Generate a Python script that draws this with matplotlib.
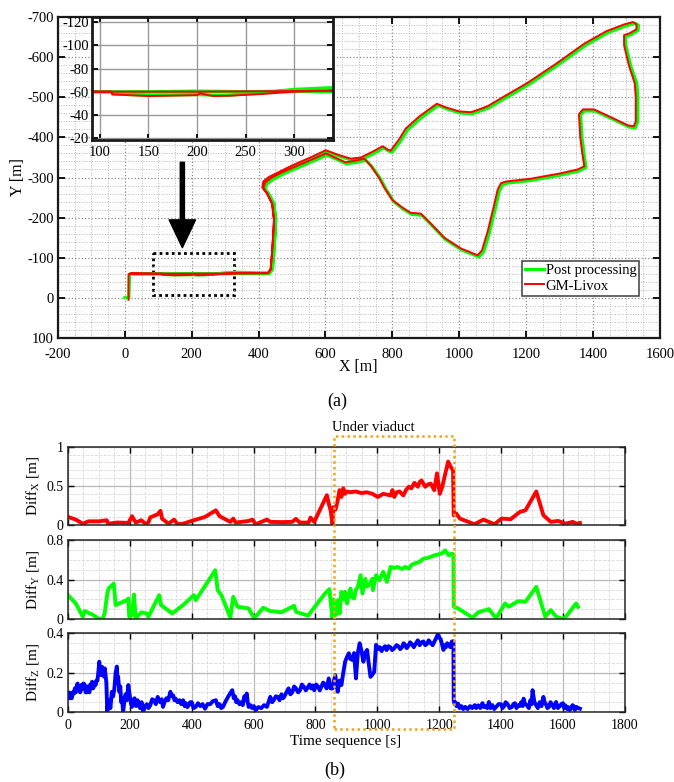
import numpy as np
import matplotlib
matplotlib.use("Agg")
import matplotlib.pyplot as plt
from matplotlib.ticker import MultipleLocator, AutoMinorLocator, FormatStrFormatter
from matplotlib.patches import Rectangle
from matplotlib.transforms import blended_transform_factory

plt.rcParams['font.family'] = ['Liberation Serif', 'DejaVu Serif']
plt.rcParams['mathtext.fontset'] = 'custom'
plt.rcParams['mathtext.rm'] = 'Liberation Serif'
plt.rcParams['axes.unicode_minus'] = False

# trajectory (X, Y) in metres
livox_xy = [
    (11, 5), (11, -59), (18, -61), (60, -60.5), (100, -60), (150, -60), (200, -60),
    (250, -60.3), (300, -60.5), (340, -61), (400, -61.5), (428, -62), (436, -70),
    (440, -110), (444, -160), (446, -193), (441, -235), (426, -260), (411, -275),
    (414, -290), (430, -301), (500, -330), (560, -352), (601, -368), (640, -356),
    (676, -347), (706, -350), (740, -364), (771, -378), (785, -370), (795, -367),
    (820, -395), (840, -422), (880, -452), (933, -484), (960, -475), (1000, -465),
    (1035, -463), (1060, -470), (1085, -478), (1140, -505), (1204, -536), (1290, -584),
    (1374, -634), (1440, -665), (1493, -682), (1520, -688), (1530, -682), (1530, -670),
    (1510, -660), (1493, -655), (1493, -630), (1508, -578), (1525, -535), (1528, -500),
    (1528, -440), (1522, -428), (1505, -430), (1460, -448), (1403, -470), (1370, -470),
    (1358, -458), (1362, -400), (1368, -360), (1374, -328), (1354, -320), (1300, -310),
    (1214, -297), (1140, -290), (1125, -286), (1115, -270), (1104, -230), (1085, -165),
    (1068, -118), (1055, -106), (1005, -123), (955, -150), (915, -185), (885, -210),
    (855, -212), (830, -225), (800, -244), (775, -276), (760, -300), (735, -330),
    (716, -347), (690, -342), (660, -338), (601, -360), (540, -338), (470, -313),
    (440, -300), (420, -288), (414, -274), (425, -260), (440, -235), (446, -195),
    (444, -160), (440, -110), (436, -72), (428, -61), (400, -61), (340, -61),
    (300, -60), (267, -58), (233, -56.5), (217, -56.2), (203, -58.5), (200, -57),
    (150, -56.2), (113, -57.7), (112, -60), (60, -60), (18, -60),
]
post_xy = [
    (0, 0), (12, 0), (14, -58), (20, -60), (60, -60), (100, -60), (150, -60),
    (200, -60.5), (250, -60), (300, -60.5), (340, -60), (400, -60), (432, -60),
    (441, -70), (445, -110), (449, -160), (451, -193), (446, -235), (431, -258),
    (416, -273), (419, -287), (435, -298), (505, -327), (565, -349), (605, -364),
    (645, -352), (680, -343), (710, -346), (745, -360), (775, -374), (789, -366),
    (799, -363), (825, -391), (845, -418), (885, -448), (937, -480), (964, -471),
    (1003, -461), (1038, -459), (1063, -466), (1089, -474), (1144, -501), (1208, -532),
    (1294, -580), (1378, -630), (1444, -661), (1497, -678), (1526, -685), (1536, -680),
    (1535, -667), (1515, -657), (1498, -652), (1498, -630), (1513, -578), (1531, -535),
    (1534, -500), (1534, -440), (1527, -424), (1508, -426), (1463, -444), (1406, -466),
    (1374, -466), (1363, -456), (1367, -400), (1373, -360), (1379, -325), (1357, -316),
    (1303, -306), (1217, -293), (1144, -286), (1130, -282), (1120, -266), (1109, -226),
    (1090, -161), (1073, -114), (1059, -102), (1008, -119), (958, -146), (918, -181),
    (888, -206), (858, -208), (833, -221), (804, -240), (780, -272), (765, -296),
    (740, -326), (721, -343), (694, -338), (663, -334), (605, -356), (544, -334),
    (474, -309), (445, -296), (425, -284), (419, -272), (430, -258), (445, -233),
    (451, -195), (449, -160), (445, -110), (441, -72), (432, -62), (400, -62),
    (340, -63.5), (300, -62), (267, -59), (233, -57), (217, -57), (200, -57.5),
    (150, -57), (113, -58), (112, -60), (60, -60), (20, -60),
]

# errors over time (t [s], diff [m])
diff_x = [
    (0, 0.106), (25, 0.072), (48, 0.02), (66, 0.05), (101, 0.05), (118, 0.06), (125, 0.064),
    (130, 0.02), (160, 0.035), (195, 0.03), (207, 0.115), (219, 0.034), (237, 0.064),
    (252, 0.013), (260, 0.04), (266, 0.1), (290, 0.14), (299, 0.183), (304, 0.085),
    (325, 0.02), (343, 0.072), (354, 0.013), (372, 0.02), (407, 0.064), (443, 0.106),
    (478, 0.19), (490, 0.115), (525, 0.043), (534, 0.085), (542, 0.034), (584, 0.055),
    (596, 0.072), (607, 0.013), (643, 0.072), (654, 0.043), (690, 0.04), (725, 0.043),
    (737, 0.081), (749, 0.034), (778, 0.034), (784, 0.098), (796, 0.043), (837, 0.383),
    (843, 0.277), (849, 0.19), (855, 0.02), (858, 0.23), (865, 0.2), (872, 0.32),
    (878, 0.447), (884, 0.36), (890, 0.47), (896, 0.40), (902, 0.43), (913, 0.42),
    (930, 0.43), (949, 0.41), (966, 0.42), (984, 0.40), (1002, 0.36), (1019, 0.40),
    (1031, 0.39), (1043, 0.38), (1049, 0.447), (1055, 0.36), (1063, 0.42), (1072, 0.43),
    (1084, 0.38), (1093, 0.45), (1102, 0.49), (1110, 0.47), (1120, 0.54), (1131, 0.49),
    (1137, 0.55), (1143, 0.57), (1155, 0.49), (1164, 0.52), (1173, 0.53), (1184, 0.447),
    (1193, 0.66), (1202, 0.40), (1210, 0.49), (1220, 0.66), (1229, 0.81), (1237, 0.745),
    (1245, 0.70), (1247, 0.128), (1255, 0.15), (1267, 0.085), (1290, 0.05), (1314, 0.013),
    (1343, 0.072), (1379, 0.013), (1402, 0.085), (1431, 0.077), (1461, 0.17), (1479, 0.19),
    (1514, 0.43), (1537, 0.128), (1561, 0.043), (1585, 0.055), (1608, 0.02), (1632, 0.043),
    (1643, 0.02), (1655, 0.03),
]
diff_y = [
    (0, 0.243), (25, 0.159), (48, 0.024), (54, 0.081), (78, 0.047), (101, 0.0), (113, 0.007),
    (119, 0.068), (127, 0.26), (131, 0.31), (148, 0.361), (154, 0.142), (166, 0.16),
    (178, 0.176), (190, 0.192), (195, 0.209), (198, 0.024), (207, 0.04), (213, 0.25),
    (219, 0.007), (237, 0.068), (254, 0.057), (260, 0.024), (295, 0.243), (301, 0.142),
    (337, 0.057), (372, 0.142), (407, 0.243), (413, 0.192), (476, 0.496), (484, 0.294),
    (496, 0.243), (525, 0.013), (534, 0.226), (548, 0.125), (584, 0.108), (602, 0.007),
    (631, 0.115), (654, 0.081), (690, 0.068), (731, 0.135), (737, 0.074), (776, 0.034),
    (831, 0.26), (845, 0.304), (855, 0.007), (858, 0.2), (861, 0.159), (866, 0.04),
    (872, 0.192), (878, 0.057), (884, 0.277), (890, 0.2), (896, 0.277), (902, 0.159),
    (908, 0.25), (913, 0.31), (919, 0.22), (925, 0.209), (931, 0.3), (937, 0.327),
    (946, 0.446), (952, 0.26), (961, 0.41), (966, 0.33), (972, 0.344), (978, 0.37),
    (984, 0.41), (986, 0.294), (996, 0.446), (1007, 0.395), (1013, 0.44), (1019, 0.48),
    (1025, 0.43), (1031, 0.378), (1043, 0.53), (1055, 0.52), (1066, 0.53), (1080, 0.51),
    (1090, 0.53), (1102, 0.513), (1110, 0.55), (1120, 0.564), (1135, 0.58), (1149, 0.614),
    (1160, 0.62), (1170, 0.63), (1184, 0.648), (1200, 0.66), (1210, 0.67), (1220, 0.699),
    (1226, 0.67), (1231, 0.648), (1241, 0.665), (1246, 0.66), (1247, 0.125), (1261, 0.108),
    (1285, 0.06), (1308, 0.013), (1326, 0.068), (1361, 0.101), (1384, 0.007), (1413, 0.159),
    (1425, 0.125), (1455, 0.182), (1479, 0.176), (1514, 0.327), (1543, 0.024), (1561, 0.091),
    (1578, 0.024), (1602, 0.0), (1614, 0.04), (1626, 0.091), (1643, 0.159), (1649, 0.125),
]
diff_z = [
    (0, 0.077), (3, 0.1), (6, 0.07), (9, 0.095), (12, 0.07), (16, 0.1), (19, 0.094),
    (22, 0.12), (25, 0.1), (28, 0.13), (31, 0.145), (34, 0.11), (36, 0.12), (39, 0.1),
    (42, 0.111), (45, 0.14), (48, 0.12), (51, 0.145), (54, 0.137), (57, 0.1), (60, 0.10),
    (63, 0.13), (66, 0.12), (69, 0.1), (72, 0.14), (75, 0.12), (78, 0.154), (81, 0.12),
    (84, 0.13), (87, 0.15), (89, 0.137), (92, 0.16), (95, 0.16), (98, 0.2), (101, 0.256),
    (104, 0.21), (107, 0.188), (110, 0.23), (113, 0.21), (116, 0.18), (119, 0.222),
    (124, 0.15), (127, 0.0), (130, 0.05), (133, 0.06), (137, 0.02), (142, 0.103),
    (146, 0.08), (150, 0.12), (154, 0.2), (158, 0.231), (160, 0.15), (162, 0.18),
    (166, 0.103), (169, 0.13), (172, 0.05), (175, 0.07), (178, 0.0), (182, 0.05),
    (186, 0.09), (190, 0.06), (195, 0.137), (198, 0.1), (200, 0.08), (204, 0.04),
    (207, 0.026), (211, 0.06), (215, 0.07), (220, 0.03), (225, 0.06), (229, 0.04),
    (233, 0.02), (238, 0.05), (243, 0.0), (249, 0.03), (255, 0.04), (260, 0.02),
    (266, 0.034), (272, 0.065), (278, 0.06), (284, 0.04), (290, 0.077), (294, 0.06),
    (298, 0.05), (303, 0.065), (307, 0.026), (312, 0.05), (318, 0.07), (324, 0.06),
    (331, 0.103), (336, 0.08), (340, 0.085), (344, 0.06), (348, 0.068), (354, 0.05),
    (360, 0.06), (366, 0.04), (372, 0.06), (377, 0.03), (381, 0.045), (386, 0.025),
    (390, 0.034), (395, 0.05), (400, 0.05), (406, 0.02), (413, 0.026), (420, 0.045),
    (428, 0.03), (435, 0.04), (443, 0.017), (451, 0.04), (460, 0.04), (468, 0.055),
    (478, 0.06), (484, 0.03), (490, 0.04), (495, 0.02), (501, 0.026), (508, 0.05),
    (515, 0.07), (522, 0.09), (531, 0.111), (536, 0.07), (540, 0.08), (544, 0.05),
    (548, 0.06), (554, 0.04), (560, 0.05), (565, 0.035), (570, 0.08), (574, 0.06),
    (578, 0.094), (581, 0.05), (584, 0.026), (590, 0.035), (595, 0.02), (601, 0.03),
    (607, 0.009), (615, 0.025), (625, 0.02), (634, 0.035), (643, 0.026), (648, 0.05),
    (654, 0.077), (660, 0.05), (665, 0.06), (672, 0.08), (678, 0.077), (684, 0.06),
    (690, 0.09), (695, 0.07), (700, 0.08), (706, 0.1), (713, 0.12), (719, 0.09),
    (725, 0.1), (731, 0.13), (737, 0.12), (744, 0.1), (750, 0.11), (756, 0.14),
    (762, 0.13), (769, 0.11), (776, 0.128), (781, 0.14), (786, 0.12), (791, 0.135),
    (796, 0.111), (802, 0.14), (808, 0.13), (814, 0.11), (819, 0.128), (825, 0.15),
    (830, 0.14), (836, 0.12), (843, 0.171), (849, 0.12), (855, 0.12),
    (860, 0.16), (864, 0.188), (868, 0.14), (872, 0.103), (878, 0.16), (884, 0.137),
    (890, 0.2), (896, 0.256), (902, 0.28), (908, 0.299), (913, 0.27), (919, 0.265),
    (925, 0.3), (931, 0.171), (937, 0.3), (943, 0.35), (949, 0.31), (955, 0.256),
    (961, 0.3), (967, 0.316), (972, 0.25), (978, 0.179), (984, 0.19), (990, 0.205),
    (996, 0.342), (1002, 0.32), (1008, 0.33), (1014, 0.31), (1019, 0.325), (1025, 0.335),
    (1030, 0.315), (1036, 0.335), (1042, 0.33), (1048, 0.315), (1055, 0.325),
    (1062, 0.34), (1068, 0.335), (1074, 0.32), (1080, 0.33), (1085, 0.35), (1090, 0.342),
    (1095, 0.325), (1100, 0.335), (1106, 0.355), (1112, 0.345), (1118, 0.33), (1125, 0.35),
    (1131, 0.365), (1137, 0.34), (1143, 0.355), (1149, 0.359), (1155, 0.34), (1160, 0.345),
    (1166, 0.365), (1173, 0.35), (1179, 0.34), (1185, 0.36), (1190, 0.375), (1196, 0.397),
    (1200, 0.38), (1205, 0.37), (1210, 0.34), (1214, 0.316), (1218, 0.34), (1222, 0.33),
    (1226, 0.35), (1231, 0.342), (1236, 0.33), (1241, 0.359), (1246, 0.36),
    (1247, 0.06), (1250, 0.04), (1252, 0.05), (1256, 0.03), (1261, 0.043), (1266, 0.02),
    (1272, 0.03), (1278, 0.015), (1284, 0.026), (1292, 0.015), (1300, 0.03), (1307, 0.02),
    (1315, 0.035), (1320, 0.02), (1326, 0.034), (1333, 0.02), (1340, 0.045), (1345, 0.025),
    (1350, 0.03), (1356, 0.02), (1361, 0.051), (1366, 0.02), (1372, 0.035), (1378, 0.015),
    (1384, 0.026), (1392, 0.04), (1400, 0.04), (1405, 0.02), (1410, 0.03), (1415, 0.05),
    (1420, 0.043), (1428, 0.02), (1435, 0.025), (1440, 0.04), (1445, 0.045), (1450, 0.02),
    (1455, 0.034), (1460, 0.03), (1465, 0.05), (1470, 0.03), (1473, 0.068), (1478, 0.04),
    (1484, 0.034), (1490, 0.02), (1495, 0.06), (1499, 0.04), (1502, 0.111), (1508, 0.05),
    (1514, 0.034), (1519, 0.02), (1525, 0.05), (1531, 0.03), (1537, 0.077), (1541, 0.05),
    (1545, 0.04), (1550, 0.02), (1555, 0.026), (1560, 0.05), (1565, 0.04), (1571, 0.02),
    (1578, 0.051), (1584, 0.02), (1590, 0.03), (1595, 0.04), (1600, 0.045), (1604, 0.02),
    (1608, 0.034), (1613, 0.015), (1618, 0.025), (1622, 0.01), (1626, 0.017), (1631, 0.035),
    (1635, 0.03), (1639, 0.01), (1643, 0.026), (1650, 0.02), (1655, 0.017),
]
viaduct = (860, 1248)

lx, ly = np.array(livox_xy).T
px, py = np.array(post_xy).T

fig = plt.figure(figsize=(6.74, 7.82), dpi=100)

# ---- (a) trajectory ----
ax = fig.add_axes([0.086, 0.568, 0.893, 0.410])
ax.plot(px, py, color='#00ff00', lw=2.3, label='Post processing', solid_joinstyle='round')
ax.plot(lx, ly, color='#ff0000', lw=1.4, label='GM-Livox', solid_joinstyle='round')
ax.set_xlim(-200, 1600)
ax.set_ylim(100, -700)
ax.xaxis.set_major_locator(MultipleLocator(200))
ax.yaxis.set_major_locator(MultipleLocator(100))
ax.xaxis.set_minor_locator(AutoMinorLocator(4))
ax.yaxis.set_minor_locator(AutoMinorLocator(5))
ax.grid(which='major', linestyle=':', color='0.55', lw=0.9)
ax.grid(which='minor', linestyle=':', color='0.72', lw=0.7)
ax.tick_params(which='major', direction='in', top=True, right=True, length=5, width=1.3,
               labelsize=10.5, pad=3)
ax.tick_params(axis='x', pad=7)
ax.tick_params(which='minor', length=0)
for s in ax.spines.values():
    s.set_linewidth(1.6)
    s.set_color('0.1')

ax.add_patch(Rectangle((83, -111), 327 - 83, 103, fill=False, ec='black', lw=2,
                       linestyle=(0, (1, 1.2))))
ax.annotate('', xy=(172, -125), xytext=(172, -338),
            arrowprops=dict(facecolor='black', edgecolor='black', width=3, headwidth=19,
                            headlength=20))

leg = ax.legend(loc='lower right', bbox_to_anchor=(0.966, 0.132), fontsize=10.5,
                frameon=True, fancybox=False, edgecolor='0.3', framealpha=1,
                handlelength=1.3, handletextpad=0.15, borderpad=0.2, labelspacing=0.15,
                borderaxespad=0)
leg.get_frame().set_linewidth(1.2)

fig.text(0.531, 0.531, 'X [m]', ha='center', va='center', fontsize=11.5)
fig.text(0.027, 0.774, 'Y [m]', ha='center', va='center', fontsize=11.5, rotation=90)
fig.text(0.500, 0.487, '(a)', ha='center', va='center', fontsize=13)

# inset zoom of the straight segment
axi = fig.add_axes([0.1365, 0.821, 0.3575, 0.157])
axi.plot(px, py, color='#00ff00', lw=2.3)
axi.plot(lx, ly, color='#ff0000', lw=1.4)
axi.set_xlim(92, 340)
axi.set_ylim(-18.3, -124.3)
axi.set_xticks([100, 150, 200, 250, 300])
axi.set_yticks([-120, -100, -80, -60, -40, -20])
axi.grid(which='major', linestyle='-', color='0.6', lw=1)
axi.tick_params(direction='in', top=True, right=True, length=4, width=1.3, labelsize=10.5,
                pad=2)
axi.tick_params(axis='x', pad=4)
for s in axi.spines.values():
    s.set_linewidth(2)
    s.set_color('0.1')

# ---- (b) differences ----
series = [(diff_x, '#ff0000', 1.0, 0.5, 0.1, 'X'),
          (diff_y, '#00ff00', 0.8, 0.4, 0.1, 'Y'),
          (diff_z, '#0000ff', 0.4, 0.2, 0.05, 'Z')]
bottoms = [0.3283, 0.2084, 0.0895]
axes_b = []
for (pts, col, ymax, ymaj, ymin, lab), b in zip(series, bottoms):
    a = fig.add_axes([0.1009, b, 0.826, 0.1005])
    t, v = np.array(pts).T
    a.plot(t, v, color=col, lw=2.8, solid_joinstyle='round')
    a.set_xlim(0, 1800)
    a.set_ylim(0, ymax)
    a.xaxis.set_major_locator(MultipleLocator(200))
    a.xaxis.set_minor_locator(MultipleLocator(50))
    a.yaxis.set_major_locator(MultipleLocator(ymaj))
    a.yaxis.set_minor_locator(MultipleLocator(ymin))
    a.yaxis.set_major_formatter(FormatStrFormatter('%g'))
    a.grid(which='major', linestyle='-', color='0.72', lw=0.9)
    a.grid(which='minor', linestyle='--', color='0.85', lw=0.6)
    a.tick_params(which='major', direction='in', top=True, right=True, length=4, width=1,
                  labelsize=10, pad=3)
    a.tick_params(axis='x', pad=5)
    a.tick_params(which='minor', length=0)
    for s in a.spines.values():
        s.set_linewidth(1.1)
        s.set_color('0.15')
    fig.text(0.049, b + 0.0502, r'Diff$_{\mathrm{%s}}$ [m]' % lab, ha='center', va='center',
             fontsize=11, rotation=90)
    axes_b.append(a)

for a in axes_b[:-1]:
    a.tick_params(labelbottom=False)

tr = blended_transform_factory(axes_b[-1].transData, fig.transFigure)
fig.add_artist(Rectangle((viaduct[0], 0.0682), viaduct[1] - viaduct[0], 0.4425 - 0.0682,
                         transform=tr, fill=False, ec='#f5a31a', lw=1.8,
                         linestyle=(0, (1, 1.3))))
fig.text(0.492, 0.453, 'Under viaduct', ha='left', va='center', fontsize=10.5)
fig.text(0.513, 0.0524, 'Time sequence [s]', ha='center', va='center', fontsize=11)
fig.text(0.497, 0.0153, '(b)', ha='center', va='center', fontsize=13)

fig.savefig('out.png', dpi=100)
